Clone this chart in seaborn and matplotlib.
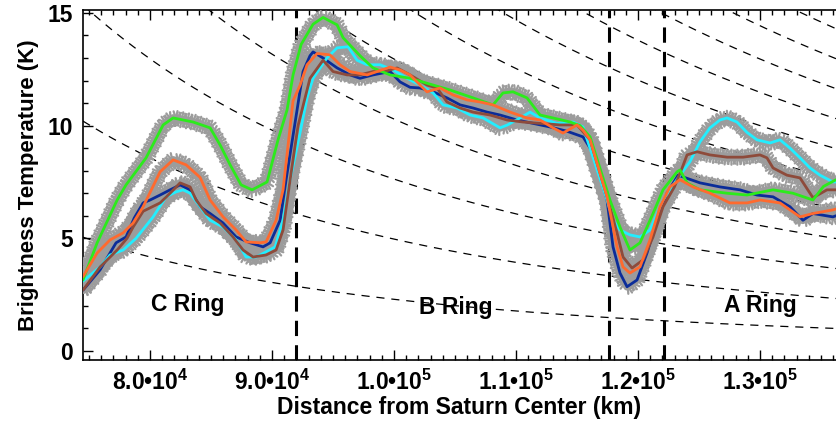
import numpy as np
import pandas as pd
import matplotlib
matplotlib.use("Agg")
import matplotlib.pyplot as plt
from matplotlib import patheffects as pe
from matplotlib.ticker import MultipleLocator, FixedLocator, FixedFormatter
import seaborn as sns

# ---------------- data ----------------
navy_r = [74500, 75900, 77210, 78030, 78700, 79430, 80000, 80820, 81640, 82460, 83280, 84100, 84920, 85980,
          87050, 88200, 89260, 89840, 90660, 91150, 92050, 92540, 93110, 93360, 94180, 95330, 96390, 97210,
          98280, 99670, 100490, 101310, 102130, 103200, 104340, 105410, 106480, 107620, 108690, 110080,
          111390, 112790, 114180, 115490, 116310, 117460, 117950, 118520, 119100, 119920, 120740, 121560,
          122380, 123280, 125080, 126720, 128360, 129750, 131070, 132460, 133520, 134340, 135980, 136230]
navy_T = [2.7, 3.6, 4.8, 5.06, 5.9, 6.57, 6.7, 6.92, 7.15, 7.37, 7.15, 6.4, 6.1, 5.68,
          5.06, 4.8, 4.62, 4.8, 5.8, 7.6, 10.7, 12.4, 13.1, 13.27, 13.0, 12.56, 12.25, 12.1,
          12.25, 12.4, 11.94, 11.7, 11.67, 11.5, 11.23, 10.92, 10.78, 10.6, 10.47, 10.25,
          10.1, 9.94, 9.75, 9.5, 8.8, 6.7, 4.62, 3.46, 2.85, 3.15, 4.35, 5.8,
          7.0, 7.8, 7.46, 7.28, 7.15, 6.92, 6.84, 6.4, 5.8, 6.1, 5.95, 6.0]

orange_r = [74500, 75660, 76720, 77790, 78610, 79430, 80820, 81890, 82950, 84100, 84920, 85980, 87050,
            87870, 89020, 89510, 90330, 90900, 91720, 92300, 92870, 93690, 94750, 95570, 96390, 97790,
            98610, 99670, 100490, 101310, 102130, 102700, 103770, 104840, 105980, 107050, 108110, 109510,
            110900, 111970, 113030, 113850, 115000, 115490, 116070, 117460, 118280, 118770, 119340, 120160,
            120980, 121800, 122620, 123440, 124510, 125900, 127540, 128930, 130000, 131640, 133280, 134340,
            135980, 136230]
orange_T = [3.3, 4.35, 4.93, 5.24, 5.68, 6.4, 7.95, 8.48, 8.26, 7.7, 6.7, 5.95, 5.37,
            4.84, 4.8, 4.84, 5.8, 7.15, 11.1, 11.8, 12.7, 13.2, 13.14, 12.7, 12.4, 12.25,
            12.4, 12.6, 12.47, 12.25, 11.8, 11.5, 11.67, 11.36, 11.14, 11.05, 10.92, 10.6,
            10.34, 10.25, 9.9, 9.67, 10.03, 9.8, 9.37, 6.84, 4.62, 3.73, 3.46, 3.73,
            4.93, 6.4, 7.28, 7.6, 7.28, 7.0, 6.57, 6.57, 6.7, 6.57, 5.95, 6.1,
            6.26, 6.3]

brown_r = [74500, 75900, 77300, 78110, 78610, 79430, 80820, 81640, 82460, 83280, 83770, 84590, 85740,
           86800, 87620, 88440, 89510, 90330, 90900, 91480, 92130, 93110, 94180, 95000, 96150, 97210,
           98280, 99200, 100250, 101310, 102700, 103520, 104340, 105410, 106480, 107870, 109260, 110570,
           111970, 113610, 115000, 116070, 117540, 118280, 118770, 119510, 120410, 121230, 122050, 123000,
           123600, 124020, 124840, 125900, 127300, 128610, 130000, 130570, 131070, 132210, 133280, 134340,
           135490, 136230]
brown_T = [2.7, 3.73, 4.48, 5.0, 5.5, 6.2, 6.57, 7.0, 7.46, 7.28, 6.7, 6.1, 5.68,
           5.06, 4.48, 4.17, 4.26, 4.48, 5.37, 7.6, 10.0, 12.1, 12.9, 12.4, 12.25, 12.25,
           12.4, 12.4, 12.56, 12.25, 11.8, 11.67, 11.05, 10.78, 10.6, 10.47, 10.25, 10.16,
           10.1, 10.03, 10.03, 9.37, 6.7, 5.24, 4.17, 3.68, 4.04, 5.06, 6.4, 7.3,
           8.1, 8.7, 8.84, 8.7, 8.6, 8.6, 8.7, 8.57, 8.12, 7.8, 7.68, 6.8,
           7.15, 7.15]

green_r = [74500, 75660, 77300, 78030, 79670, 81070, 81890, 83520, 84920, 85740, 86560, 87460, 88360,
           89590, 90490, 91230, 91720, 92380, 93360, 94180, 95330, 95820, 97210, 98280, 99670, 101310,
           103200, 104590, 106480, 108110, 108930, 109750, 110900, 111970, 113030, 114430, 115250, 116070,
           117700, 118520, 119340, 120160, 121230, 122050, 123200, 123440, 124020, 125080, 127300, 128930,
           131070, 132700, 134340, 135200, 136230]
green_T = [3.15, 4.8, 6.7, 7.37, 8.57, 10.03, 10.34, 10.16, 9.9, 9.14, 8.26, 7.37, 7.15,
           7.5, 9.37, 10.7, 12.25, 13.6, 14.5, 14.8, 14.47, 13.9, 13.1, 12.56, 12.25, 12.1,
           11.8, 11.58, 11.23, 10.92, 11.45, 11.5, 11.23, 10.47, 10.34, 10.16, 10.0, 9.5,
           6.7, 5.5, 4.48, 4.8, 6.1, 7.15, 7.95, 8.03, 7.46, 7.15, 7.0, 6.92,
           7.15, 7.0, 6.7, 7.3, 7.6]

cyan_r = [74500, 75900, 76720, 77790, 78850, 80250, 81310, 82130, 82700, 83280, 84100, 84920, 85980,
          87050, 87870, 88690, 89510, 90250, 90900, 91480, 92300, 92870, 93360, 94500, 95330, 96230,
          96970, 97790, 98850, 99920, 101070, 102130, 103200, 104020, 105160, 106230, 107300, 108690,
          109300, 110330, 111150, 111970, 113360, 114670, 115490, 116310, 117460, 117950, 118520, 119340,
          120160, 120980, 121560, 122050, 123440, 124260, 125080, 125900, 126720, 127300, 128110, 128930,
          129750, 130820, 131640, 132460, 133280, 134100, 134920, 135980, 136230]
cyan_T = [3.1, 3.73, 4.26, 4.48, 5.0, 5.95, 6.84, 7.06, 7.15, 7.0, 6.4, 5.8, 5.5,
          4.93, 4.17, 4.17, 4.4, 4.62, 5.8, 7.6, 9.7, 11.23, 12.1, 13.0, 13.45, 13.5,
          12.9, 12.7, 12.7, 12.47, 12.1, 11.8, 11.45, 10.92, 10.78, 10.47, 10.34, 9.9,
          10.03, 10.34, 10.6, 10.34, 10.1, 10.16, 9.94, 8.6, 6.7, 5.8, 5.37, 5.15,
          5.06, 5.37, 6.1, 6.7, 7.8, 8.4, 9.28, 9.9, 10.25, 10.34, 10.16, 9.7,
          9.37, 9.23, 9.37, 9.0, 8.57, 8.12, 7.8, 7.5, 7.5]

# model reference curves: value at inner and outer edge of the plotted range
guide_inner_T = [5.05, 10.2, 15.35, 20.5, 25.65, 30.8, 35.95, 41.1, 46.25, 51.4, 56.55, 61.7, 66.85]
guide_outer_T = [1.0, 2.33, 3.66, 4.99, 6.32, 7.65, 8.98, 10.31, 11.64, 12.97, 14.3, 15.63, 16.96]

ring_edges = [92000, 117580, 122170]
ring_names = ["C Ring", "B Ring", "A Ring"]
ring_label_r = [83100, 105100, 130000]
ring_label_T = [2.05, 1.95, 2.0]

xtick_values = [80000, 90000, 100000, 110000, 120000, 130000]
xtick_labels = ["8.0•10$^{4}$", "9.0•10$^{4}$", "1.0•10$^{5}$", "1.1•10$^{5}$", "1.2•10$^{5}$", "1.3•10$^{5}$"]
ytick_values = [0, 5, 10, 15]

series = [
    ("navy", navy_r, navy_T, "#0b2c99"),
    ("cyan", cyan_r, cyan_T, "#22eeff"),
    ("brown", brown_r, brown_T, "#8e4b3b"),
    ("green", green_r, green_T, "#2ceb1c"),
    ("orange", orange_r, orange_T, "#ff6a2e"),
]

# ---------------- style ----------------
sns.set_theme(style="white")
plt.rcParams["font.family"] = ["Liberation Sans", "DejaVu Sans"]
plt.rcParams["font.weight"] = "bold"
plt.rcParams["mathtext.fontset"] = "custom"
plt.rcParams["mathtext.rm"] = "Liberation Sans:bold"
plt.rcParams["mathtext.bf"] = "Liberation Sans:bold"
plt.rcParams["mathtext.it"] = "Liberation Sans:bold"

FS = 16.5
W, H = 836, 421
fig = plt.figure(figsize=(W / 100, H / 100), dpi=100)
ax = fig.add_axes([83 / W, 1 - 360 / H, 753 / W, 350 / H])

XMIN, XMAX = 74500, 136230
YMIN, YMAX = -0.4, 15.13

# reference curves
r_grid = np.linspace(XMIN, XMAX, 300)
span = np.log(XMAX / XMIN)
for Li, Ro in zip(guide_inner_T, guide_outer_T):
    n = np.log(Li / Ro) / span
    ax.plot(r_grid, Li * (r_grid / XMIN) ** (-n), color="black", lw=0.9,
            linestyle=(0, (6.5, 5.5)), zorder=2)

# ring boundaries
for e in ring_edges:
    ax.axvline(e, color="black", lw=2.2, linestyle=(0, (5, 3)), zorder=2)

# gray measurement bands (asterisk-like texture)
gray = "#9c9c9c"
star_fx = [pe.Normal()]
for ang in (60, 120, -60, -120, 90, -90):
    star_fx.append(pe.TickedStroke(spacing=4.2, angle=ang, length=1.3,
                                   linewidth=1.6, foreground=gray))
for name, r, T, c in series:
    df = pd.DataFrame({"r": r, "T": T})
    sns.lineplot(data=df, x="r", y="T", color=gray, lw=5.5, ax=ax, zorder=3,
                 estimator=None, sort=True)
    ln = ax.lines[-1]
    ln.set_solid_joinstyle("round")
    ln.set_path_effects(star_fx)

# coloured curves
for name, r, T, c in series:
    df = pd.DataFrame({"r": r, "T": T})
    sns.lineplot(data=df, x="r", y="T", color=c, lw=2.0, ax=ax, zorder=4,
                 estimator=None, sort=True)

for txt, xr, yt in zip(ring_names, ring_label_r, ring_label_T):
    ax.text(xr, yt, txt, ha="center", va="center", fontsize=FS, fontweight="bold",
            color="black", zorder=1)

ax.set_xlim(XMIN, XMAX)
ax.set_ylim(YMIN, YMAX)
ax.xaxis.set_major_locator(FixedLocator(xtick_values))
ax.xaxis.set_major_formatter(FixedFormatter(xtick_labels))
ax.xaxis.set_minor_locator(MultipleLocator(1000))
ax.yaxis.set_major_locator(FixedLocator(ytick_values))
ax.yaxis.set_minor_locator(MultipleLocator(1))

ax.tick_params(which="both", direction="in", top=True, bottom=True, left=True, right=False,
               colors="black", labelsize=FS, width=1.0)
ax.tick_params(which="major", length=7)
ax.tick_params(which="minor", length=3.5)
ax.tick_params(axis="x", pad=7)
ax.tick_params(axis="y", pad=7)
for lab in ax.get_xticklabels() + ax.get_yticklabels():
    lab.set_fontweight("bold")

for s in ["left", "bottom", "top"]:
    ax.spines[s].set_color("black")
    ax.spines[s].set_linewidth(1.2)
ax.spines["right"].set_visible(False)

ax.set_xlabel("Distance from Saturn Center (km)", fontsize=FS, fontweight="bold",
              color="black", labelpad=1)
ax.set_ylabel("Brightness Temperature (K)", fontsize=16, fontweight="bold",
              color="black", labelpad=6)

fig.savefig("out.png", dpi=100)
